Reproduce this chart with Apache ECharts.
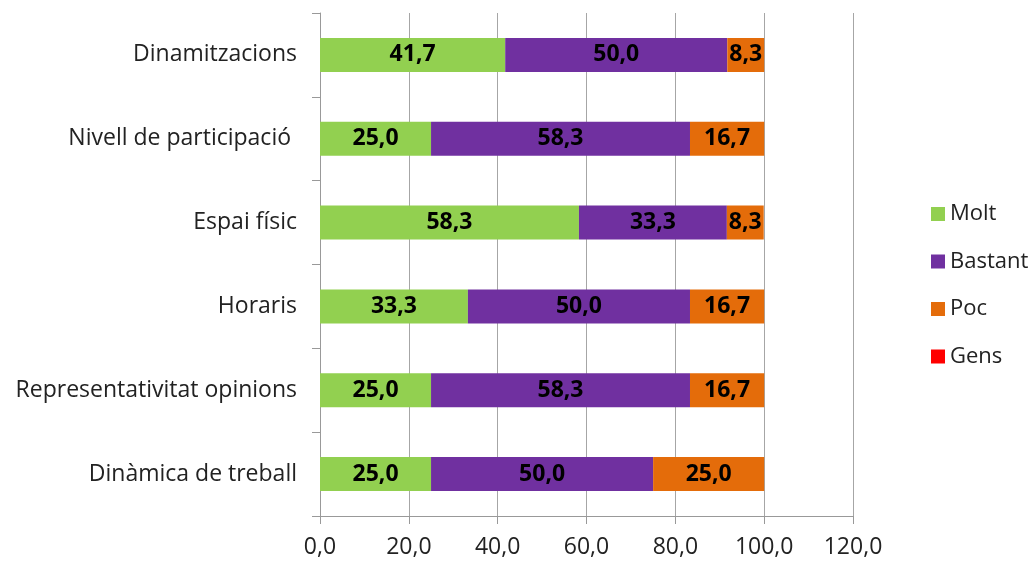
<!DOCTYPE html>
<html><head><meta charset="utf-8">
<script src="https://cdn.jsdelivr.net/npm/echarts@6/dist/echarts.min.js"></script>
<style>html,body{margin:0;padding:0;background:#fff}#c{width:1032px;height:563px}</style>
</head><body><div id="c"></div>
<script>
const categories = ['Dinamitzacions', 'Nivell de participació ', 'Espai físic', 'Horaris', 'Representativitat opinions', 'Dinàmica de treball'];
const molt = [41.7, 25.0, 58.3, 33.3, 25.0, 25.0];
const bastant = [50.0, 58.3, 33.3, 50.0, 58.3, 50.0];
const poc = [8.3, 16.7, 8.3, 16.7, 16.7, 25.0];
const gens = [0, 0, 0, 0, 0, 0];
const seriesNames = ['Molt', 'Bastant', 'Poc', 'Gens'];
const colors = ['#92D050', '#7030A0', '#E46C0A', '#FF0000'];
const font = 'Open Sans';
const fmt = v => v.toFixed(1).replace('.', ',');
function mk(name, data, color) {
  return {
    name, type: 'bar', stack: 'a', data, barWidth: 34,
    itemStyle: { color },
    label: { show: true, position: 'inside', color: '#000', fontFamily: font, fontWeight: 'bold', fontSize: 23,
      formatter: p => p.value > 0 ? fmt(p.value) : '' }
  };
}
const chart = echarts.init(document.getElementById('c'));
chart.setOption({
  animation: false,
  textStyle: { fontFamily: font },
  grid: { left: 320, right: 179, top: 13, bottom: 47 },
  legend: {
    orient: 'vertical', left: 926, top: 198, itemWidth: 14, itemHeight: 14, itemGap: 25.5, itemTextGap: 8,
    icon: 'rect', textStyle: { fontSize: 22, color: '#222', fontFamily: font },
    data: seriesNames
  },
  xAxis: {
    type: 'value', min: 0, max: 120, interval: 20,
    axisLine: { show: true, lineStyle: { color: '#999' } },
    axisTick: { show: true, length: 8, lineStyle: { color: '#999' } },
    splitLine: { show: true, lineStyle: { color: '#a6a6a6' } },
    axisLabel: { formatter: v => fmt(v), fontSize: 23, color: '#222', margin: 20, fontFamily: font }
  },
  yAxis: {
    type: 'category', data: categories, inverse: true,
    axisLine: { show: true, lineStyle: { color: '#999' } },
    axisTick: { show: true, length: 8, alignWithLabel: false, lineStyle: { color: '#999' } },
    axisLabel: { fontSize: 23, color: '#222', margin: 23, fontFamily: font }
  },
  series: [mk('Molt', molt, colors[0]), mk('Bastant', bastant, colors[1]), mk('Poc', poc, colors[2]), mk('Gens', gens, colors[3])]
});
</script></body></html>
